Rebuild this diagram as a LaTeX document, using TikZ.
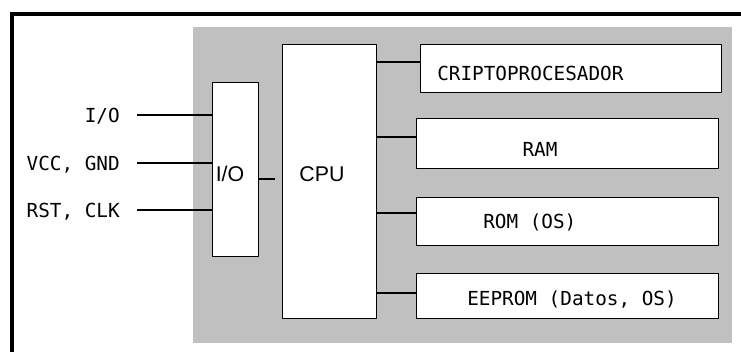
\documentclass[tikz,border=0pt]{standalone}
\usepackage{fontspec}
\setsansfont{Liberation Sans}
\setmonofont{DejaVu Sans Mono}
\definecolor{nen}{RGB}{192,192,192}
\newlength{\dv}\setlength{\dv}{0.75pt}
\begin{document}
\begin{tikzpicture}[line join=round, x=0.75pt, y=-0.75pt]
	\tikzset{hop/.style 2 args={draw,fill=white,line width=1.1pt,inner sep=0pt,anchor=north west,
			minimum width=#1\dv,minimum height=#2\dv},
		noi/.style={line width=1.1pt},
		chu-mono/.style={font=\ttfamily\fontsize{14.5}{16}\selectfont,inner sep=0pt},
		chu-sans/.style={font=\sffamily\fontsize{16}{18}\selectfont,inner sep=0pt}}
	\useasboundingbox (0,0) rectangle (741,351);
	\fill[white] (0,0) rectangle (741,351);
	\draw[line width=4\dv,line join=miter] (11.5,355) |- (745,14);
	\fill[nen] (193,27) rectangle (732,343);
	% khoi chinh
	\node[hop={46}{174}] (io) at (212,82) {};
	\node[hop={94}{274}] (cpu) at (282,44) {};
	\node[hop={301}{48}] (crypto) at (420,44) {};
	\node[hop={302}{50}] (ram) at (416,118) {};
	\node[hop={302}{48}] (rom) at (416,197) {};
	\node[hop={302}{45}] (eeprom) at (416,273) {};
	\node[chu-sans] (tio) at (230,174) {I/O};
	\node[chu-sans] (tcpu) at (322,174) {CPU};
	\node[chu-mono,anchor=base west] (tcrypto) at (437,80) {CRIPTOPROCESADOR};
	\node[chu-mono,anchor=base] (tram) at (540,156) {RAM};
	\node[chu-mono,anchor=base west] (trom) at (483,228) {ROM (OS)};
	\node[chu-mono,anchor=base west] (teeprom) at (467,305) {EEPROM (Datos, OS)};
	% tin hieu vao
	\foreach \ten/\nhan/\y/\b in {vao1/I\slash O/115/122, vao2/{VCC, GND}/163/170, vao3/{RST, CLK}/210/217}{
		\node[chu-mono,anchor=base east] (t\ten) at (120,\b) {\nhan};
		\coordinate (\ten) at (137,\y);
		\draw[noi] (\ten) -- (\ten -| io.west);
	}
	\draw[noi,shorten >=7\dv] (io.east |- 0,179) -- (cpu.west |- 0,179);
	\foreach \ten/\y in {crypto/62, ram/137, rom/213, eeprom/293}
	\draw[noi] (cpu.east |- 0,\y) -- (\ten.west |- 0,\y);
\end{tikzpicture}
\end{document}
